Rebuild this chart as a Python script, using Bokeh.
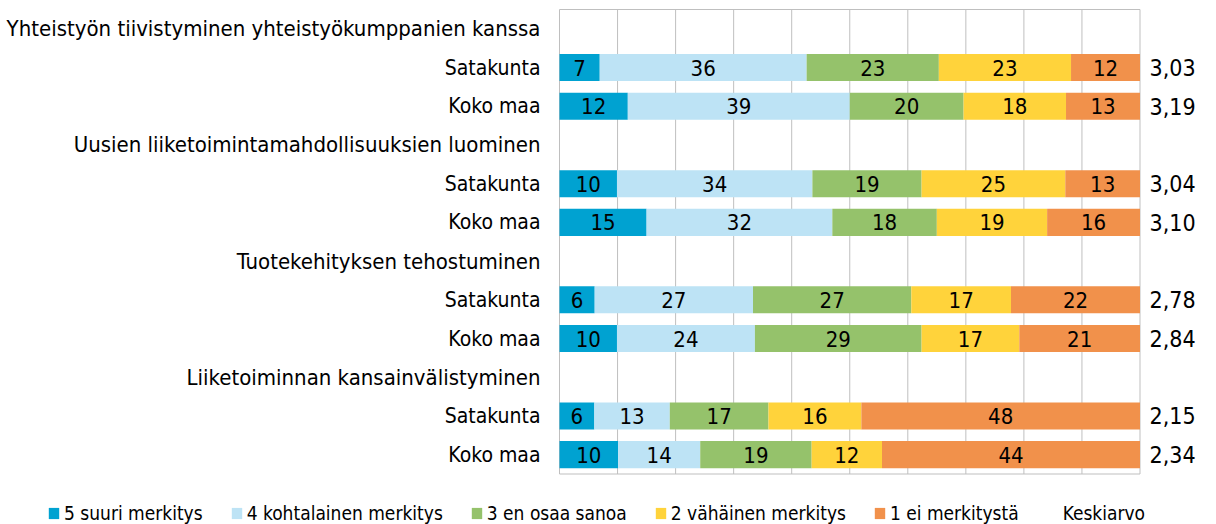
from bokeh.plotting import figure
from bokeh.models import Range1d, ColumnDataSource, Legend, LegendItem
from bokeh.core.properties import value
from bokeh.embed import file_html
from bokeh.resources import INLINE

# ---------------- data ----------------
topics = ["Yhteistyön tiivistyminen yhteistyökumppanien kanssa",
          "Uusien liiketoimintamahdollisuuksien luominen",
          "Tuotekehityksen tehostuminen",
          "Liiketoiminnan kansainvälistyminen"]
groups = ["Satakunta", "Koko maa"]
series = ["5 suuri merkitys", "4 kohtalainen merkitys", "3 en osaa sanoa",
          "2 vähäinen merkitys", "1 ei merkitystä"]
avg_label = "Keskiarvo"
# one value per bar row (topic x group), in the order of topics, then groups
s5 = [7, 12, 10, 15, 6, 10, 6, 10]
s4 = [36, 39, 34, 32, 27, 24, 13, 14]
s3 = [23, 20, 19, 18, 27, 29, 17, 19]
s2 = [23, 18, 25, 19, 17, 17, 16, 12]
s1 = [12, 13, 13, 16, 22, 21, 48, 44]
averages = [3.03, 3.19, 3.04, 3.10, 2.78, 2.84, 2.15, 2.34]
grid_ticks = list(range(0, 101, 10))
colors = ["#00A2D1", "#BDE3F5", "#95C26B", "#FFD33B", "#F1914B"]

FONT = "DejaVu Sans Condensed, DejaVu Sans"
GRID = "#BFBFBF"

# ---------------- rows ----------------
bar_rows = []
group_labels = []
topic_rows = []
for i, t in enumerate(topics):
    topic_rows.append(3 * i)
    for j, g in enumerate(groups):
        bar_rows.append(3 * i + 1 + j)
        group_labels.append(g)
n_rows = 3 * len(topics)

# ---------------- canvas geometry (plot box inside a full-size frame) ----------------
W, H = 1216, 524
box_l, box_r, box_t, box_b = 559.0, 1139.5, 9.0, 473.5
xs = (box_r - box_l) / 100.0
ys = (box_b - box_t) / n_rows
x_range = Range1d(-box_l / xs, 100 + (W - box_r) / xs)
y_range = Range1d((n_rows - 0.5) + (H - box_b) / ys, -0.5 - box_t / ys)

p = figure(width=W, height=H, output_backend="svg", toolbar_location=None,
           x_range=x_range, y_range=y_range,
           x_axis_location=None, y_axis_location=None,
           min_border=0, min_border_left=0, min_border_right=0,
           min_border_top=0, min_border_bottom=0)
p.outline_line_color = None
p.background_fill_color = "white"
p.border_fill_color = "white"
for g in list(p.xgrid) + list(p.ygrid):
    g.visible = False

# vertical gridlines and plot box
p.segment(x0=grid_ticks, x1=grid_ticks, y0=[-0.5] * len(grid_ticks),
          y1=[n_rows - 0.5] * len(grid_ticks), line_color=GRID, line_width=1)
p.segment(x0=[0, 0], x1=[100, 100], y0=[-0.5, n_rows - 0.5],
          y1=[-0.5, n_rows - 0.5], line_color=GRID, line_width=1)

# topic headers, group labels (left) and averages (right)
p.text(x=[0] * len(topic_rows), y=topic_rows, text=topics, x_offset=-19,
       text_align="right", text_baseline="middle", text_font=value(FONT),
       text_font_size="22px", text_color="black")
p.text(x=[0] * len(bar_rows), y=bar_rows, text=group_labels, x_offset=-19,
       text_align="right", text_baseline="middle", text_font=value(FONT),
       text_font_size="21px", text_color="black")
p.text(x=[100] * len(bar_rows), y=bar_rows,
       text=[f"{a:.2f}".replace(".", ",") for a in averages], x_offset=9.5,
       text_align="left", text_baseline="middle", text_font=value(FONT),
       text_font_size="23px", text_color="black")

# ---------------- stacked bars ----------------
all_series = [s5, s4, s3, s2, s1]
totals = [sum(v) for v in zip(*all_series)]
lefts = [0.0] * len(bar_rows)
renderers = []
for name, vals, col in zip(series, all_series, colors):
    w = [v / t * 100 for v, t in zip(vals, totals)]
    rights = [l + x for l, x in zip(lefts, w)]
    src = ColumnDataSource(dict(y=bar_rows, left=lefts, right=rights,
                                mid=[(l + r) / 2 for l, r in zip(lefts, rights)],
                                txt=[str(v) for v in vals]))
    r = p.hbar(y="y", left="left", right="right", height=0.7, source=src,
               fill_color=col, line_color=None)
    renderers.append(r)
    p.text(x="mid", y="y", text="txt", source=src, text_align="center",
           text_baseline="middle", text_font=value(FONT),
           text_font_size="22px", text_color="black")
    lefts = rights

dummy = p.scatter(x=[], y=[], fill_alpha=0, line_alpha=0)

items = [LegendItem(label=s, renderers=[r]) for s, r in zip(series, renderers)]
items.append(LegendItem(label=avg_label, renderers=[dummy]))
legend = Legend(items=items, orientation="horizontal", location=(47, 0),
                glyph_width=13, glyph_height=14, label_standoff=4, spacing=27,
                padding=0, margin=0, border_line_color=None,
                background_fill_alpha=0, label_text_font=FONT,
                label_text_font_size="19px", label_text_color="black")
p.add_layout(legend, "center")

open("out.html", "w").write(file_html(p, INLINE))
